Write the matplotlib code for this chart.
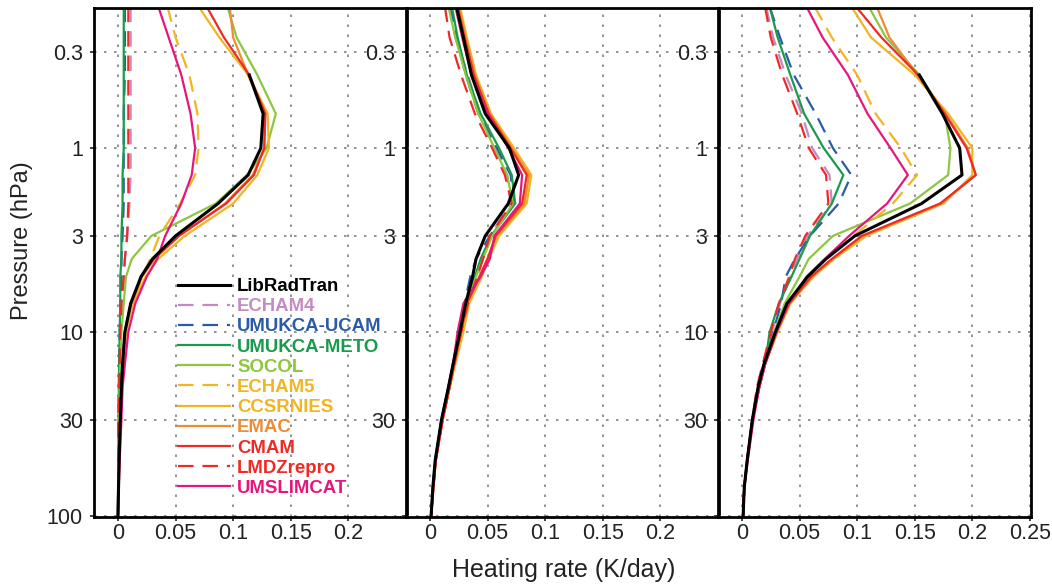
import numpy as np
import matplotlib
matplotlib.use("Agg")
import matplotlib.pyplot as plt
from matplotlib.ticker import NullLocator

plt.rcParams['font.family'] = ['Liberation Sans', 'DejaVu Sans']

# pressure levels (hPa)
pressure = [0.17, 0.25, 0.4, 0.65, 1.0, 1.4, 2.0, 3.0, 4.0, 5.0, 7.0, 10, 15, 20, 30, 50, 70, 100]

models = ["LibRadTran", "ECHAM4", "UMUKCA-UCAM", "UMUKCA-METO", "SOCOL", "ECHAM5",
          "CCSRNIES", "EMAC", "CMAM", "LMDZrepro", "UMSLIMCAT"]

nan = np.nan

# left panel
librad_a = [nan, nan, 0.114, 0.126, 0.124, 0.113, 0.087, 0.050, 0.030, 0.020, 0.011, 0.006, 0.004, 0.003, 0.002, 0.001, 0.0005, 0.0]
echam4_a = [0.011, 0.011, 0.011, 0.011, 0.011, 0.011, 0.010, 0.008, 0.006, 0.005, 0.003, 0.002, 0.0015, 0.001, 0.0007, 0.0004, 0.0002, 0.0]
ucam_a = [0.006, 0.006, 0.006, 0.005, 0.005, 0.005, 0.005, 0.004, 0.003, 0.003, 0.002, 0.0015, 0.001, 0.0008, 0.0005, 0.0003, 0.0001, 0.0]
meto_a = [0.005, 0.005, 0.005, 0.005, 0.005, 0.004, 0.004, 0.003, 0.003, 0.002, 0.002, 0.0015, 0.001, 0.0008, 0.0005, 0.0003, 0.0001, 0.0]
socol_a = [0.095, 0.103, 0.121, 0.137, 0.129, 0.112, 0.085, 0.029, 0.012, 0.007, 0.005, 0.003, 0.002, 0.0015, 0.001, 0.0005, 0.0002, 0.0]
echam5_a = [0.043, 0.050, 0.062, 0.069, 0.070, 0.067, 0.054, 0.036, 0.028, 0.021, 0.012, 0.007, 0.004, 0.003, 0.002, 0.001, 0.0005, 0.0]
ccsr_a = [0.070, 0.088, 0.113, 0.130, 0.131, 0.121, 0.100, 0.058, 0.035, 0.024, 0.013, 0.007, 0.0045, 0.003, 0.002, 0.001, 0.0005, 0.0]
emac_a = [0.097, 0.100, 0.113, 0.127, 0.127, 0.117, 0.093, 0.053, 0.032, 0.021, 0.012, 0.006, 0.004, 0.003, 0.002, 0.001, 0.0005, 0.0]
cmam_a = [0.077, 0.092, 0.114, 0.128, 0.127, 0.118, 0.094, 0.053, 0.031, 0.020, 0.011, 0.006, 0.004, 0.003, 0.002, 0.001, 0.0005, 0.0]
lmdz_a = [0.009, 0.009, 0.009, 0.009, 0.009, 0.009, 0.009, 0.008, 0.006, 0.005, 0.003, 0.002, 0.0015, 0.001, 0.0007, 0.0004, 0.0002, 0.0]
slim_a = [0.035, 0.044, 0.055, 0.063, 0.067, 0.064, 0.055, 0.041, 0.034, 0.025, 0.015, 0.009, 0.006, 0.004, 0.003, 0.0015, 0.0007, 0.0]

# middle panel
librad_b = [0.023, 0.029, 0.036, 0.048, 0.069, 0.077, 0.068, 0.048, 0.040, 0.037, 0.031, 0.026, 0.020, 0.016, 0.010, 0.0045, 0.0025, 0.001]
echam4_b = [0.017, 0.022, 0.033, 0.043, 0.057, 0.067, 0.070, 0.052, 0.046, 0.041, 0.033, 0.027, 0.021, 0.017, 0.011, 0.005, 0.003, 0.001]
ucam_b = [0.018, 0.023, 0.031, 0.042, 0.058, 0.070, 0.073, 0.052, 0.040, 0.035, 0.030, 0.026, 0.020, 0.016, 0.010, 0.0045, 0.0025, 0.001]
meto_b = [0.019, 0.024, 0.032, 0.044, 0.060, 0.071, 0.074, 0.053, 0.044, 0.039, 0.031, 0.026, 0.020, 0.016, 0.010, 0.0045, 0.0025, 0.001]
socol_b = [0.016, 0.022, 0.031, 0.042, 0.056, 0.067, 0.072, 0.054, 0.046, 0.040, 0.033, 0.027, 0.021, 0.017, 0.011, 0.005, 0.003, 0.001]
echam5_b = [0.025, 0.031, 0.039, 0.052, 0.071, 0.085, 0.082, 0.058, 0.050, 0.043, 0.033, 0.028, 0.021, 0.017, 0.011, 0.005, 0.003, 0.001]
ccsr_b = [0.026, 0.032, 0.040, 0.053, 0.073, 0.088, 0.084, 0.060, 0.051, 0.045, 0.034, 0.029, 0.022, 0.017, 0.011, 0.005, 0.003, 0.001]
emac_b = [0.025, 0.031, 0.039, 0.052, 0.071, 0.086, 0.082, 0.058, 0.050, 0.043, 0.032, 0.027, 0.021, 0.017, 0.011, 0.005, 0.003, 0.001]
cmam_b = [0.024, 0.030, 0.038, 0.051, 0.070, 0.084, 0.080, 0.057, 0.050, 0.043, 0.032, 0.027, 0.021, 0.017, 0.011, 0.005, 0.003, 0.001]
lmdz_b = [0.013, 0.017, 0.027, 0.039, 0.054, 0.065, 0.071, 0.052, 0.046, 0.041, 0.033, 0.027, 0.021, 0.017, 0.011, 0.005, 0.003, 0.001]
slim_b = [0.022, 0.028, 0.036, 0.050, 0.068, 0.080, 0.078, 0.056, 0.052, 0.044, 0.029, 0.024, 0.020, 0.016, 0.010, 0.005, 0.0025, 0.001]

# right panel
librad_c = [nan, nan, 0.154, 0.174, 0.189, 0.191, 0.156, 0.098, 0.073, 0.057, 0.039, 0.029, 0.019, 0.014, 0.009, 0.0045, 0.002, 0.001]
echam4_c = [0.021, 0.027, 0.038, 0.052, 0.061, 0.076, 0.078, 0.057, 0.048, 0.042, 0.033, 0.026, 0.018, 0.013, 0.009, 0.0045, 0.002, 0.001]
ucam_c = [0.024, 0.033, 0.045, 0.064, 0.079, 0.095, 0.084, 0.059, 0.046, 0.038, 0.034, 0.027, 0.019, 0.014, 0.009, 0.0045, 0.002, 0.001]
meto_c = [0.024, 0.031, 0.042, 0.054, 0.071, 0.088, 0.078, 0.059, 0.050, 0.043, 0.032, 0.024, 0.020, 0.015, 0.009, 0.0045, 0.002, 0.001]
socol_c = [0.110, 0.125, 0.154, 0.176, 0.181, 0.179, 0.146, 0.079, 0.058, 0.050, 0.037, 0.028, 0.019, 0.014, 0.009, 0.0045, 0.002, 0.001]
echam5_c = [0.063, 0.078, 0.100, 0.116, 0.138, 0.152, 0.131, 0.097, 0.073, 0.057, 0.040, 0.029, 0.019, 0.014, 0.009, 0.0045, 0.002, 0.001]
ccsr_c = [0.095, 0.112, 0.150, 0.179, 0.200, 0.200, 0.175, 0.108, 0.080, 0.062, 0.042, 0.031, 0.020, 0.015, 0.009, 0.0045, 0.002, 0.001]
emac_c = [0.117, 0.128, 0.152, 0.177, 0.196, 0.203, 0.173, 0.105, 0.079, 0.061, 0.041, 0.030, 0.020, 0.015, 0.009, 0.0045, 0.002, 0.001]
cmam_c = [0.099, 0.121, 0.153, 0.176, 0.195, 0.203, 0.172, 0.104, 0.078, 0.060, 0.041, 0.030, 0.020, 0.015, 0.009, 0.0045, 0.002, 0.001]
lmdz_c = [0.020, 0.025, 0.035, 0.048, 0.058, 0.073, 0.075, 0.055, 0.046, 0.041, 0.032, 0.025, 0.018, 0.013, 0.009, 0.0045, 0.002, 0.001]
slim_c = [0.056, 0.070, 0.092, 0.109, 0.129, 0.144, 0.126, 0.093, 0.072, 0.056, 0.040, 0.030, 0.020, 0.015, 0.010, 0.005, 0.002, 0.001]

panels = [
    [librad_a, echam4_a, ucam_a, meto_a, socol_a, echam5_a, ccsr_a, emac_a, cmam_a, lmdz_a, slim_a],
    [librad_b, echam4_b, ucam_b, meto_b, socol_b, echam5_b, ccsr_b, emac_b, cmam_b, lmdz_b, slim_b],
    [librad_c, echam4_c, ucam_c, meto_c, socol_c, echam5_c, ccsr_c, emac_c, cmam_c, lmdz_c, slim_c],
]

colors = ["#000000", "#c48bc0", "#2a5ba8", "#1a9a4c", "#8dc63f", "#f2b522",
          "#f2b522", "#f08a33", "#ee2a26", "#ee2a26", "#e6177c"]
dashed = [False, True, True, False, False, True, False, False, False, True, False]

W, H = 1052, 584
lefts = [94, 406, 718]
pw = 313
top, bot = 8, 517

fig = plt.figure(figsize=(W / 100, H / 100), dpi=100)

axes = []
for k, data in enumerate(panels):
    ax = fig.add_axes([lefts[k] / W, (H - bot) / H, pw / W, (bot - top) / H])
    ax.set_yscale('log')
    ax.set_ylim(101.3, 0.173)
    ax.set_xlim(-0.0208, 0.2509)

    # colored models first, LibRadTran on top
    for i in list(range(1, len(models))) + [0]:
        ls = (0, (7, 4)) if dashed[i] else '-'
        lw = 2.2 if i == 0 else 1.6
        ax.plot(data[i], pressure, color=colors[i], linestyle=ls, lw=lw,
                label=models[i], zorder=3 if i == 0 else 2)

    yt = [0.3, 1, 3, 10, 30, 100]
    ylab = ["0.3", "1", "3", "10", "30", "100"]
    if k == 1:
        ylab = ["0.3", "1", "3", "", "30", ""]
    elif k == 2:
        ylab = ["0.3", "1", "3", "10", "30", ""]
    ax.set_yticks(yt)
    ax.set_yticklabels(ylab)
    ax.yaxis.set_minor_locator(NullLocator())

    xt = [0, 0.05, 0.1, 0.15, 0.2] if k < 2 else [0, 0.05, 0.1, 0.15, 0.2, 0.25]
    ax.set_xticks(xt)
    ax.set_xticklabels([("%g" % v) for v in xt])

    ax.grid(True, color='#808080', linestyle=(0, (1.5, 4.5)), linewidth=1.2)
    ax.set_axisbelow(True)
    ax.tick_params(axis='both', direction='out', length=3, width=1.2,
                   labelsize=15.5, labelcolor='#222222', color='#222222')
    ax.tick_params(axis='x', pad=1)
    ax.tick_params(axis='y', pad=5)
    for s in ax.spines.values():
        s.set_linewidth(2.0)
        s.set_color('black')
    ax.patch.set_alpha(0)
    axes.append(ax)

# legend in left panel, in the original model order
h, l = axes[0].get_legend_handles_labels()
order = [l.index(m) for m in models]
leg = axes[0].legend([h[j] for j in order], [l[j] for j in order],
                     loc='upper left', bbox_to_anchor=(178 / W, 1 - 278 / H),
                     bbox_transform=fig.transFigure, frameon=False,
                     borderpad=0, borderaxespad=0, labelspacing=0.17,
                     handlelength=2.8, handletextpad=0.38,
                     prop={'size': 13.4, 'weight': 'bold'})
for txt, ln in zip(leg.get_texts(), leg.get_lines()):
    txt.set_color(ln.get_color())

fig.text(564 / W, 1 - 570 / H, "Heating rate (K/day)", ha='center', va='center',
         fontsize=18, color='#222222')
fig.text(22 / W, 1 - 241 / H, "Pressure (hPa)", ha='center', va='center',
         rotation=90, fontsize=17, color='#222222')

fig.savefig("out.png", dpi=100)
